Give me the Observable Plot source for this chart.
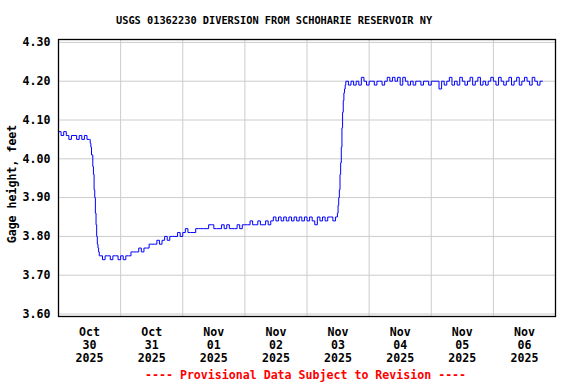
<!DOCTYPE html>
<html><head><meta charset="utf-8">
<script src="https://cdn.jsdelivr.net/npm/d3@7"></script>
<script src="https://cdn.jsdelivr.net/npm/@observablehq/plot@0.6"></script>
<style>
body{margin:0;background:#fff;width:576px;height:384px;overflow:hidden;position:relative;font-family:"DejaVu Sans Mono",monospace;font-weight:bold;}
#title{position:absolute;left:116px;top:14px;font-size:10.3px;line-height:12px;white-space:pre;color:#000;}
#chart{position:absolute;left:0;top:32px;}
#footer{position:absolute;left:145px;top:368px;font-size:11.6px;line-height:14px;white-space:pre;color:#ff0000;}
</style></head><body>
<div id="title"></div>
<div id="chart"></div>
<div id="footer"></div>
<script>
const titleText = "USGS 01362230 DIVERSION FROM SCHOHARIE RESERVOIR NY";
const footerText = "---- Provisional Data Subject to Revision ----";
const yLabel = "Gage height, feet";

// Gage height (feet). Hourly readings, with 15-minute readings during the two transitions.
const oct30Early = [4.07,4.06,4.07,4.06,4.05,4.06,4.06,4.05,4.06,4.05,4.06,4.05];            // 00:00-11:00 hourly
const oct30Drop  = [4.05,4.04,4.03,4.01,4.01,3.98,3.96,3.92,3.90,3.86,3.83,3.80,3.78,3.77,3.76,3.75]; // 12:00-15:45 every 15 min
const oct30Late  = [3.75,3.74,3.75,3.75,3.74,3.75,3.75,3.74];                                 // 16:00-23:00 hourly
const oct31 = [3.75,3.74,3.75,3.75,3.76,3.76,3.76,3.77,3.76,3.77,3.77,3.78,3.78,3.78,3.79,3.78,3.79,3.80,3.79,3.80,3.80,3.80,3.81,3.80];
const nov01 = [3.81,3.82,3.81,3.81,3.81,3.82,3.82,3.82,3.82,3.82,3.83,3.83,3.82,3.82,3.82,3.83,3.82,3.83,3.82,3.82,3.82,3.83,3.82,3.83];
const nov02 = [3.83,3.83,3.84,3.83,3.83,3.84,3.83,3.83,3.84,3.83,3.84,3.85,3.84,3.85,3.84,3.85,3.84,3.85,3.84,3.85,3.84,3.85,3.84,3.85];
const nov03Early = [3.84,3.85,3.84,3.83,3.85,3.84,3.85,3.84,3.85,3.85,3.84,3.85];           // 00:00-11:00 hourly
const nov03Rise  = [3.86,3.88,3.90,3.92,3.96,3.99,4.03,4.08,4.12,4.15,4.17,4.18,4.19,4.20];   // 11:45-15:00 every 15 min
const nov03Late  = [4.19,4.20,4.19,4.20,4.19,4.21,4.20,4.19];                                 // 16:00-23:00 hourly
const nov04 = [4.20,4.20,4.19,4.20,4.20,4.19,4.20,4.21,4.20,4.21,4.20,4.21,4.19,4.21,4.20,4.19,4.20,4.19,4.20,4.20,4.19,4.20,4.20,4.19];
const nov05 = [4.20,4.20,4.20,4.18,4.20,4.19,4.20,4.21,4.19,4.20,4.19,4.21,4.20,4.19,4.20,4.21,4.19,4.20,4.21,4.19,4.20,4.19,4.20,4.21];
const nov06 = [4.20,4.19,4.21,4.20,4.19,4.20,4.21,4.19,4.20,4.21,4.19,4.20,4.21,4.20,4.19,4.21,4.20,4.19,4.20,4.20];

const segmentStarts = ["2025-10-30T00:00","2025-10-30T12:00","2025-10-30T16:00","2025-10-31T00:00","2025-11-01T00:00","2025-11-02T00:00","2025-11-03T00:00","2025-11-03T11:45","2025-11-03T16:00","2025-11-04T00:00","2025-11-05T00:00","2025-11-06T00:00"];
const segmentStepMinutes = [60,15,60,60,60,60,60,15,60,60,60,60];
const segmentValues = [oct30Early,oct30Drop,oct30Late,oct31,nov01,nov02,nov03Early,nov03Rise,nov03Late,nov04,nov05,nov06];

const dayStarts = ["2025-10-30","2025-10-31","2025-11-01","2025-11-02","2025-11-03","2025-11-04","2025-11-05","2025-11-06"];
const yTicks = [3.60,3.70,3.80,3.90,4.00,4.10,4.20,4.30];
const xTickLabels = ["Oct\n30\n2025","Oct\n31\n2025","Nov\n01\n2025","Nov\n02\n2025","Nov\n03\n2025","Nov\n04\n2025","Nov\n05\n2025","Nov\n06\n2025"];
const xDomain = ["2025-10-30","2025-11-07"];

document.getElementById("title").textContent = titleText;
document.getElementById("footer").textContent = footerText;

const rows = [];
segmentValues.forEach((vals, s) => {
  const t0 = new Date(segmentStarts[s] + ":00Z").getTime();
  vals.forEach((v, i) => rows.push({t: new Date(t0 + i * segmentStepMinutes[s] * 60000), v}));
});
const midnights = dayStarts.slice(1).map(s => new Date(s + "T00:00:00Z"));
const noons = dayStarts.map(s => new Date(s + "T12:00:00Z"));

const chart = Plot.plot({
  width: 576,
  height: 332,
  marginLeft: 58,
  marginRight: 21,
  marginTop: 7,
  marginBottom: 48,
  style: "font-family:'DejaVu Sans Mono',monospace;font-weight:bold;font-size:11.6px;color:#000;background:#fff;",
  x: {type: "utc", domain: xDomain.map(s => new Date(s + "T00:00:00Z"))},
  y: {domain: [3.5936, 4.3075]},
  marks: [
    Plot.gridX(midnights, {stroke: "#cccccc", strokeOpacity: 1, strokeWidth: 1}),
    Plot.gridY(yTicks, {stroke: "#cccccc", strokeOpacity: 1, strokeWidth: 1}),
    Plot.axisY(yTicks, {tickSize: 0, tickPadding: 8, tickFormat: d => d.toFixed(2), label: null, fill: "#000"}),
    Plot.axisX(noons, {tickSize: 0, tickPadding: 10, tickFormat: (d, i) => xTickLabels[i], lineHeight: 1.12, label: null, fill: "#000"}),
    Plot.text([yLabel], {frameAnchor: "left", textAnchor: "middle", rotate: -90, dx: -46, dy: 6, fill: "#000", fontWeight: "bold"}),
    Plot.line(rows, {x: "t", y: "v", stroke: "#0000ff", strokeWidth: 1, curve: "step-after"}),
    Plot.frame({stroke: "#000", strokeWidth: 1.3})
  ]
});
document.getElementById("chart").appendChild(chart);
</script>
</body></html>
